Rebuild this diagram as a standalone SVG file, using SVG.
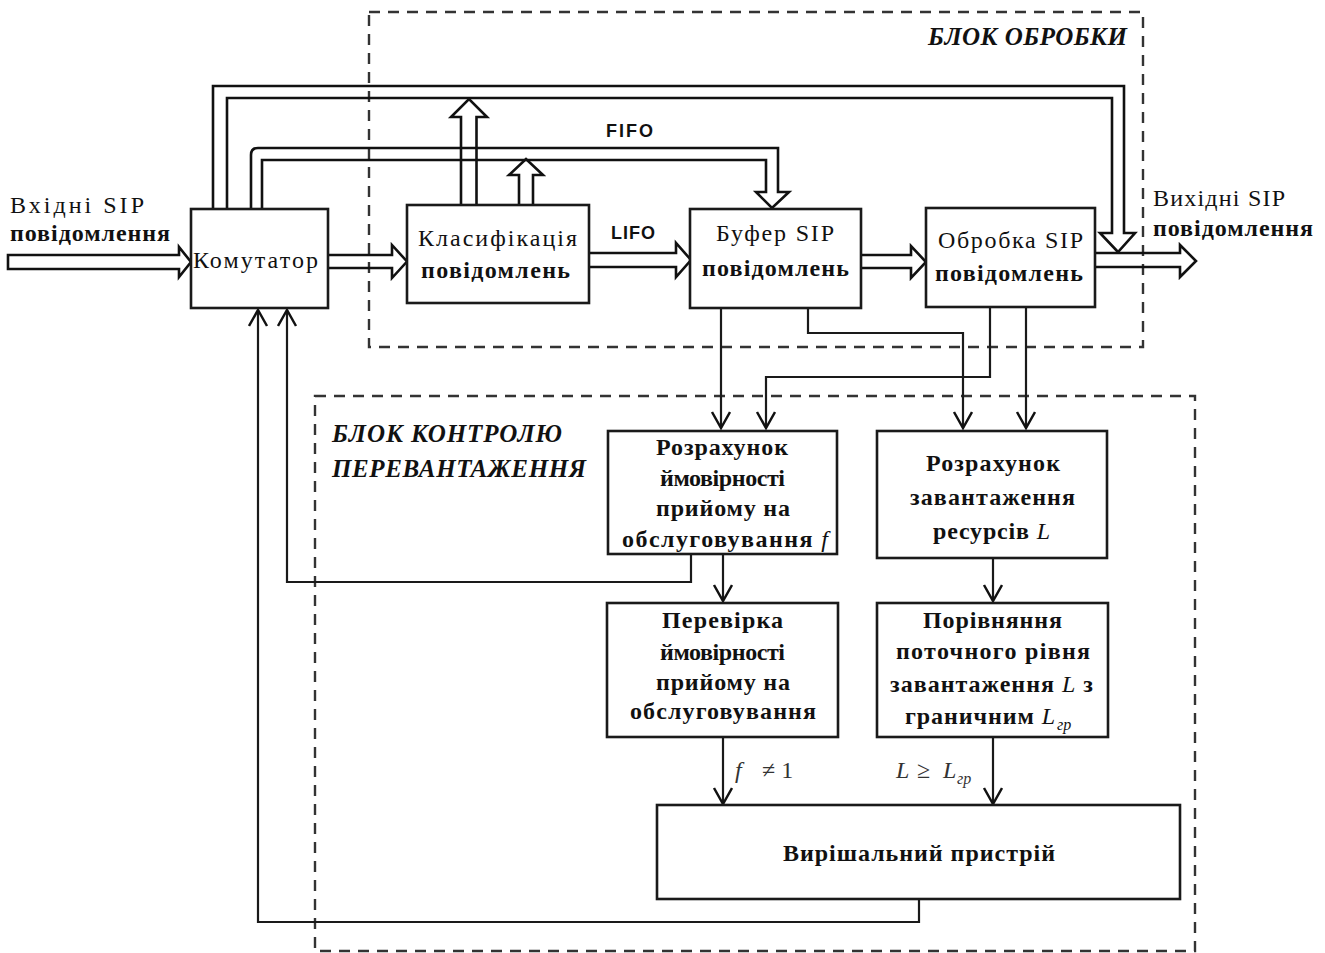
<svg xmlns="http://www.w3.org/2000/svg" width="1325" height="953" viewBox="0 0 1325 953">
<style>
.bg{fill:#fff}
.box{fill:#fff;stroke:#1a1a1a;stroke-width:2.6}
.dash{fill:none;stroke:#333;stroke-width:2.4;stroke-dasharray:11 8}
.hollow{fill:none;stroke:#111;stroke-width:2.6;stroke-linejoin:miter}
.wire{fill:none;stroke:#1a1a1a;stroke-width:2.2}
.t{font-family:"Liberation Serif","Times New Roman",serif;font-size:24px;fill:#111}
.b{font-weight:bold}
.bi{font-family:"Liberation Serif","Times New Roman",serif;font-size:25px;font-weight:bold;font-style:italic;fill:#111}
.s{font-family:"Liberation Sans",Arial,sans-serif;font-size:18px;font-weight:bold;fill:#111}
.m{font-family:"Liberation Serif","Times New Roman",serif;font-style:italic;font-weight:normal}
.sub{font-size:16px}
.math{font-family:"Liberation Serif","Times New Roman",serif;font-size:24px;fill:#333}
</style>
<defs>
<marker id="v" markerWidth="22" markerHeight="22" refX="17" refY="10" orient="auto" markerUnits="userSpaceOnUse" viewBox="0 0 22 22">
<path d="M1,1 L17,10 L1,19" fill="none" stroke="#111" stroke-width="2.5"/>
</marker>
</defs>
<rect class="bg" x="0" y="0" width="1325" height="953"/>

<g id="block-processing">
<rect class="dash" x="369" y="12" width="774" height="335"/>
<text class="bi" x="928" y="45" textLength="199">БЛОК ОБРОБКИ</text>
</g>
<g id="block-control">
<rect class="dash" x="315" y="396" width="880" height="555"/>
<text class="bi" x="332" y="442" textLength="230">БЛОК КОНТРОЛЮ</text>
<text class="bi" x="332" y="477" textLength="254">ПЕРЕВАНТАЖЕННЯ</text>
</g>

<g id="connectors">
<path class="hollow" d="M8,255 L179,255 L179,247 L191,262 L179,277 L179,269 L8,269 Z"/>
<path class="hollow" d="M328,255 L392,255 L392,245 L407,261.5 L392,278 L392,268 L328,268"/>
<path class="hollow" d="M589,253 L676,253 L676,243 L691,260 L676,277 L676,267 L589,267"/>
<path class="hollow" d="M861,255 L911,255 L911,246 L926,262 L911,278 L911,268 L861,268"/>
<path class="hollow" d="M1095,253 L1180,253 L1180,245 L1196,261 L1180,277 L1180,267 L1095,267"/>
<path class="hollow" d="M213,209 L213,86 L1124,86 L1124,233 L1135,233 L1118,252 L1100,233 L1112,233 L1112,98 L227,98 L227,209"/>
<path class="hollow" d="M251,209 L251,155 Q251,148 258,148 L778,148 L778,192 L789,192 L772,208 L756,192 L766,192 L766,160 L262,160 L262,209"/>
<path class="hollow" d="M461,205 L461,117 L451,117 L469,99 L487,117 L476.5,117 L476.5,205"/>
<path class="hollow" d="M519,205 L519,175 L509,175 L526,159 L543,175 L533,175 L533,205"/>
<path class="wire" d="M721,308 L721,428" marker-end="url(#v)"/>
<path class="wire" d="M808,308 L808,333 L963,333 L963,428" marker-end="url(#v)"/>
<path class="wire" d="M990,307 L990,377 L766,377 L766,428" marker-end="url(#v)"/>
<path class="wire" d="M1026,307 L1026,428" marker-end="url(#v)"/>
<path class="wire" d="M723,554 L723,601" marker-end="url(#v)"/>
<path class="wire" d="M691,554 L691,582 L287,582 L287,310" marker-end="url(#v)"/>
<path class="wire" d="M993,558 L993,601" marker-end="url(#v)"/>
<path class="wire" d="M723,737 L723,804" marker-end="url(#v)"/>
<path class="wire" d="M993,737 L993,804" marker-end="url(#v)"/>
<path class="wire" d="M919,899 L919,922 L258,922 L258,310" marker-end="url(#v)"/>
<text class="s" x="606" y="137" textLength="47">FIFO</text>
<text class="s" x="611" y="239" textLength="44">LIFO</text>
<text class="math"><tspan class="m" x="735" y="778">f</tspan><tspan x="762" y="778">≠ 1</tspan></text>
<text class="math"><tspan class="m" x="896" y="778">L</tspan><tspan x="917" y="778">≥</tspan><tspan class="m" x="943" y="778">L</tspan><tspan class="m sub" x="957" y="784">гр</tspan></text>
</g>

<g id="input-label">
<text class="t" x="10" y="213" textLength="134">Вхідні SIP</text>
<text class="t b" x="10" y="241" textLength="160">повідомлення</text>
</g>
<g id="output-label">
<text class="t" x="1153" y="206" textLength="132">Вихідні SIP</text>
<text class="t b" x="1153" y="236" textLength="160">повідомлення</text>
</g>

<g id="commutator">
<rect class="box" x="191" y="209" width="137" height="99"/>
<text class="t" x="193" y="268" textLength="125">Комутатор</text>
</g>
<g id="classification">
<rect class="box" x="407" y="205" width="182" height="98"/>
<text class="t" x="418" y="246" textLength="159">Класифікація</text>
<text class="t b" x="421" y="278" textLength="149">повідомлень</text>
</g>
<g id="buffer">
<rect class="box" x="690" y="209" width="171" height="99"/>
<text class="t" x="716" y="241" textLength="118">Буфер SIP</text>
<text class="t b" x="702" y="276" textLength="147">повідомлень</text>
</g>
<g id="processing">
<rect class="box" x="926" y="208" width="169" height="99"/>
<text class="t" x="938" y="248" textLength="145">Обробка SIP</text>
<text class="t b" x="935" y="281" textLength="148">повідомлень</text>
</g>

<g id="calc-f">
<rect class="box" x="608" y="431" width="229" height="123"/>
<text class="t b" x="656" y="455" textLength="132">Розрахунок</text>
<text class="t b" x="660" y="486" textLength="125">ймовірності</text>
<text class="t b" x="656" y="516" textLength="134">прийому на</text>
<text class="t b" x="622" y="547" textLength="206">обслуговування <tspan class="m">f</tspan></text>
</g>
<g id="calc-l">
<rect class="box" x="877" y="431" width="230" height="127"/>
<text class="t b" x="926" y="471" textLength="134">Розрахунок</text>
<text class="t b" x="910" y="505" textLength="165">завантаження</text>
<text class="t b" x="933" y="539" textLength="117">ресурсів <tspan class="m">L</tspan></text>
</g>
<g id="check-f">
<rect class="box" x="607" y="603" width="231" height="134"/>
<text class="t b" x="662" y="628" textLength="121">Перевірка</text>
<text class="t b" x="660" y="660" textLength="125">ймовірності</text>
<text class="t b" x="656" y="690" textLength="134">прийому на</text>
<text class="t b" x="630" y="719" textLength="186">обслуговування</text>
</g>
<g id="compare-l">
<rect class="box" x="877" y="603" width="231" height="134"/>
<text class="t b" x="923" y="628" textLength="139">Порівняння</text>
<text class="t b" x="896" y="659" textLength="194">поточного рівня</text>
<text class="t b" x="890" y="692" textLength="203">завантаження <tspan class="m">L</tspan> з</text>
<text class="t b" x="905" y="724" textLength="150">граничним <tspan class="m">L</tspan></text>
<text class="t m sub" x="1057" y="730">гр</text>
</g>
<g id="decision">
<rect class="box" x="657" y="805" width="523" height="94"/>
<text class="t b" x="783" y="861" textLength="272">Вирішальний пристрій</text>
</g>
</svg>
